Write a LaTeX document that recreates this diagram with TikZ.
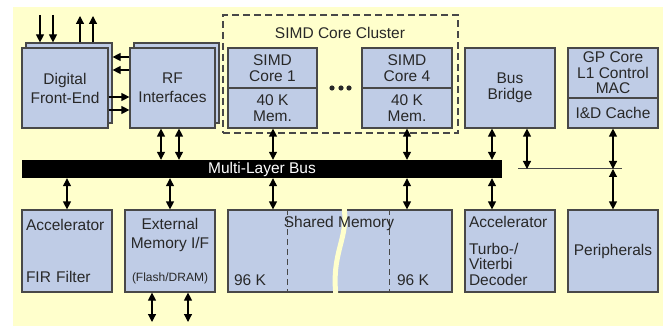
\documentclass[tikz,border=0pt]{standalone}
\usepackage{fontspec}
\setmainfont{Liberation Sans}
\usetikzlibrary{arrows.meta, positioning, shadows}
\definecolor{bgyellow}{RGB}{255,255,204}
\definecolor{boxblue}{RGB}{191,204,230}
\definecolor{edgegray}{RGB}{72,72,72}
\definecolor{inkgray}{RGB}{40,40,40}

\begin{document}
\begin{tikzpicture}[
    x=1pt, y=-1pt,
    blockbox/.style={rectangle, draw=edgegray, line width=1.2pt, fill=boxblue, inner sep=3pt, align=center, text=inkgray, font=\fontsize{15.5}{15.5}\selectfont, drop shadow={shadow xshift=1.3pt, shadow yshift=-1.3pt, opacity=0.35}},
    widebox/.style={blockbox, font=\fontsize{15.5}{19}\selectfont},
    textonly/.style={inner sep=0pt, text=inkgray, font=\fontsize{15.5}{15.5}\selectfont},
    busbar/.style={rectangle, fill=black, text=white, inner sep=0pt, font=\fontsize{15.5}{15.5}\selectfont},
    arrow/.style={-{Triangle[length=8pt, width=8pt]}, line width=1.2pt},
    darrow/.style={{Triangle[length=8pt, width=8pt]}-{Triangle[length=8pt, width=8pt]}, line width=1.2pt}
]

\useasboundingbox (0,0) rectangle (667,326);
\fill[bgyellow] (13,7) rectangle (663,326);

% cluster frame
\node[draw=edgegray, dashed, dash pattern=on 7pt off 4pt, line width=1.2pt, minimum width=235pt, minimum height=118pt] (cluster) at (340.5,74) {};
\node[textonly] (clusterlbl) at (340,33) {SIMD Core Cluster};

% top row
\node[widebox, minimum width=86pt, minimum height=80pt] (dfeb) at (69,83) {};
\node[widebox, minimum width=86pt, minimum height=80pt] (dfe) at (65,88) {Digital\\Front-End};
\node[widebox, minimum width=85pt, minimum height=80pt] (rfb) at (176.5,83) {};
\node[widebox, minimum width=85pt, minimum height=80pt] (rf) at (172.5,88) {RF\\Interfaces};

\node[blockbox, minimum width=89pt, minimum height=40pt] (core1) at (272.5,68) {SIMD\\Core 1};
\node[blockbox, minimum width=89pt, minimum height=40pt, below=-1.2pt of core1] (mem1) {40 K\\Mem.};
\node[blockbox, minimum width=90pt, minimum height=40pt] (core4) at (407,68) {SIMD\\Core 4};
\node[blockbox, minimum width=90pt, minimum height=40pt, below=-1.2pt of core4] (mem4) {40 K\\Mem.};
\foreach \x in {332,341,349}
    \fill[inkgray] (\x,88) circle (2.6pt);

\node[blockbox, minimum width=90pt, minimum height=80pt] (bridge) at (510,88) {Bus\\Bridge};
\node[blockbox, minimum width=90pt, minimum height=50pt] (gpcore) at (613,73) {GP Core\\L1 Control\\MAC};
\node[blockbox, minimum width=90pt, minimum height=30pt, below=-1.2pt of gpcore] (cache) {I\&D Cache};

% bus
\node[busbar, minimum width=480pt, minimum height=18pt] (bus) at (262,169) {Multi-Layer Bus};
\coordinate (tapl) at (518,169);
\coordinate (tapr) at (622,169);
\draw[edgegray, line width=1pt] (tapl) -- (tapr);

% bottom row
\node[blockbox, align=left, minimum width=90pt, minimum height=82pt, text width=82pt] (fir) at (67,251) {Accelerator\\[37pt]FIR Filter};
\node[widebox, minimum width=90pt, minimum height=82pt] (extmem) at (170,251) {External\\Memory I/F\\[14pt]{\fontsize{12}{12}\selectfont(Flash/DRAM)}};
\node[blockbox, minimum width=224pt, minimum height=82pt] (shmem) at (340,251) {};
\foreach \x in {287,389}
    \draw[edgegray, line width=1pt, dashed, dash pattern=on 6pt off 4pt] (shmem.north -| \x,0) -- (shmem.south -| \x,0);
\draw[bgyellow, line width=5pt] (344,207) .. controls (349,238) and (331,252) .. (336,296);
\node[textonly] (shlbl) at (339,223) {Shared Memory};
\node[textonly] (sh96a) at (250,280) {96 K};
\node[textonly] (sh96b) at (413,280) {96 K};
\node[blockbox, align=left, minimum width=90pt, minimum height=82pt, text width=82pt] (turbo) at (510,251) {Accelerator\\[11pt]Turbo-/\\Viterbi\\Decoder};
\node[blockbox, minimum width=90pt, minimum height=82pt] (periph) at (613,251) {Peripherals};

% connectors
\coordinate (dfein) at (0,15);
\coordinate (dfeout) at (0,16);
\coordinate (extio) at (0,322);
\foreach \x in {40,53}
    \draw[arrow] (dfein -| \x,0) -- (dfeb.north -| \x,0);
\foreach \x in {80,93}
    \draw[arrow] (dfeb.north -| \x,0) -- (dfeout -| \x,0);
\foreach \y in {57,70}
    \draw[arrow] (rf.west |- 0,\y) -- (dfeb.east |- 0,\y);
\foreach \y in {97,110}
    \draw[arrow] (dfe.east |- 0,\y) -- (rf.west |- 0,\y);
\foreach \x in {161,179}
    \draw[darrow] (rf.south -| \x,0) -- (bus.north -| \x,0);
\foreach \b/\x in {mem1/273, mem4/407, bridge/492}
    \draw[darrow] (\b.south -| \x,0) -- (bus.north -| \x,0);
\foreach \b/\x in {fir/67, extmem/170, shmem/273, shmem/407, turbo/492}
    \draw[darrow] (bus.south -| \x,0) -- (\b.north -| \x,0);
\draw[darrow] (bridge.south -| 527,0) -- (tapl -| 527,0);
\draw[darrow] (cache.south) -- (cache.south |- tapl);
\draw[darrow] (periph.north |- tapl) -- (periph.north);
\foreach \x in {152,188}
    \draw[darrow] (extmem.south -| \x,0) -- (extio -| \x,0);

\end{tikzpicture}
\end{document}
